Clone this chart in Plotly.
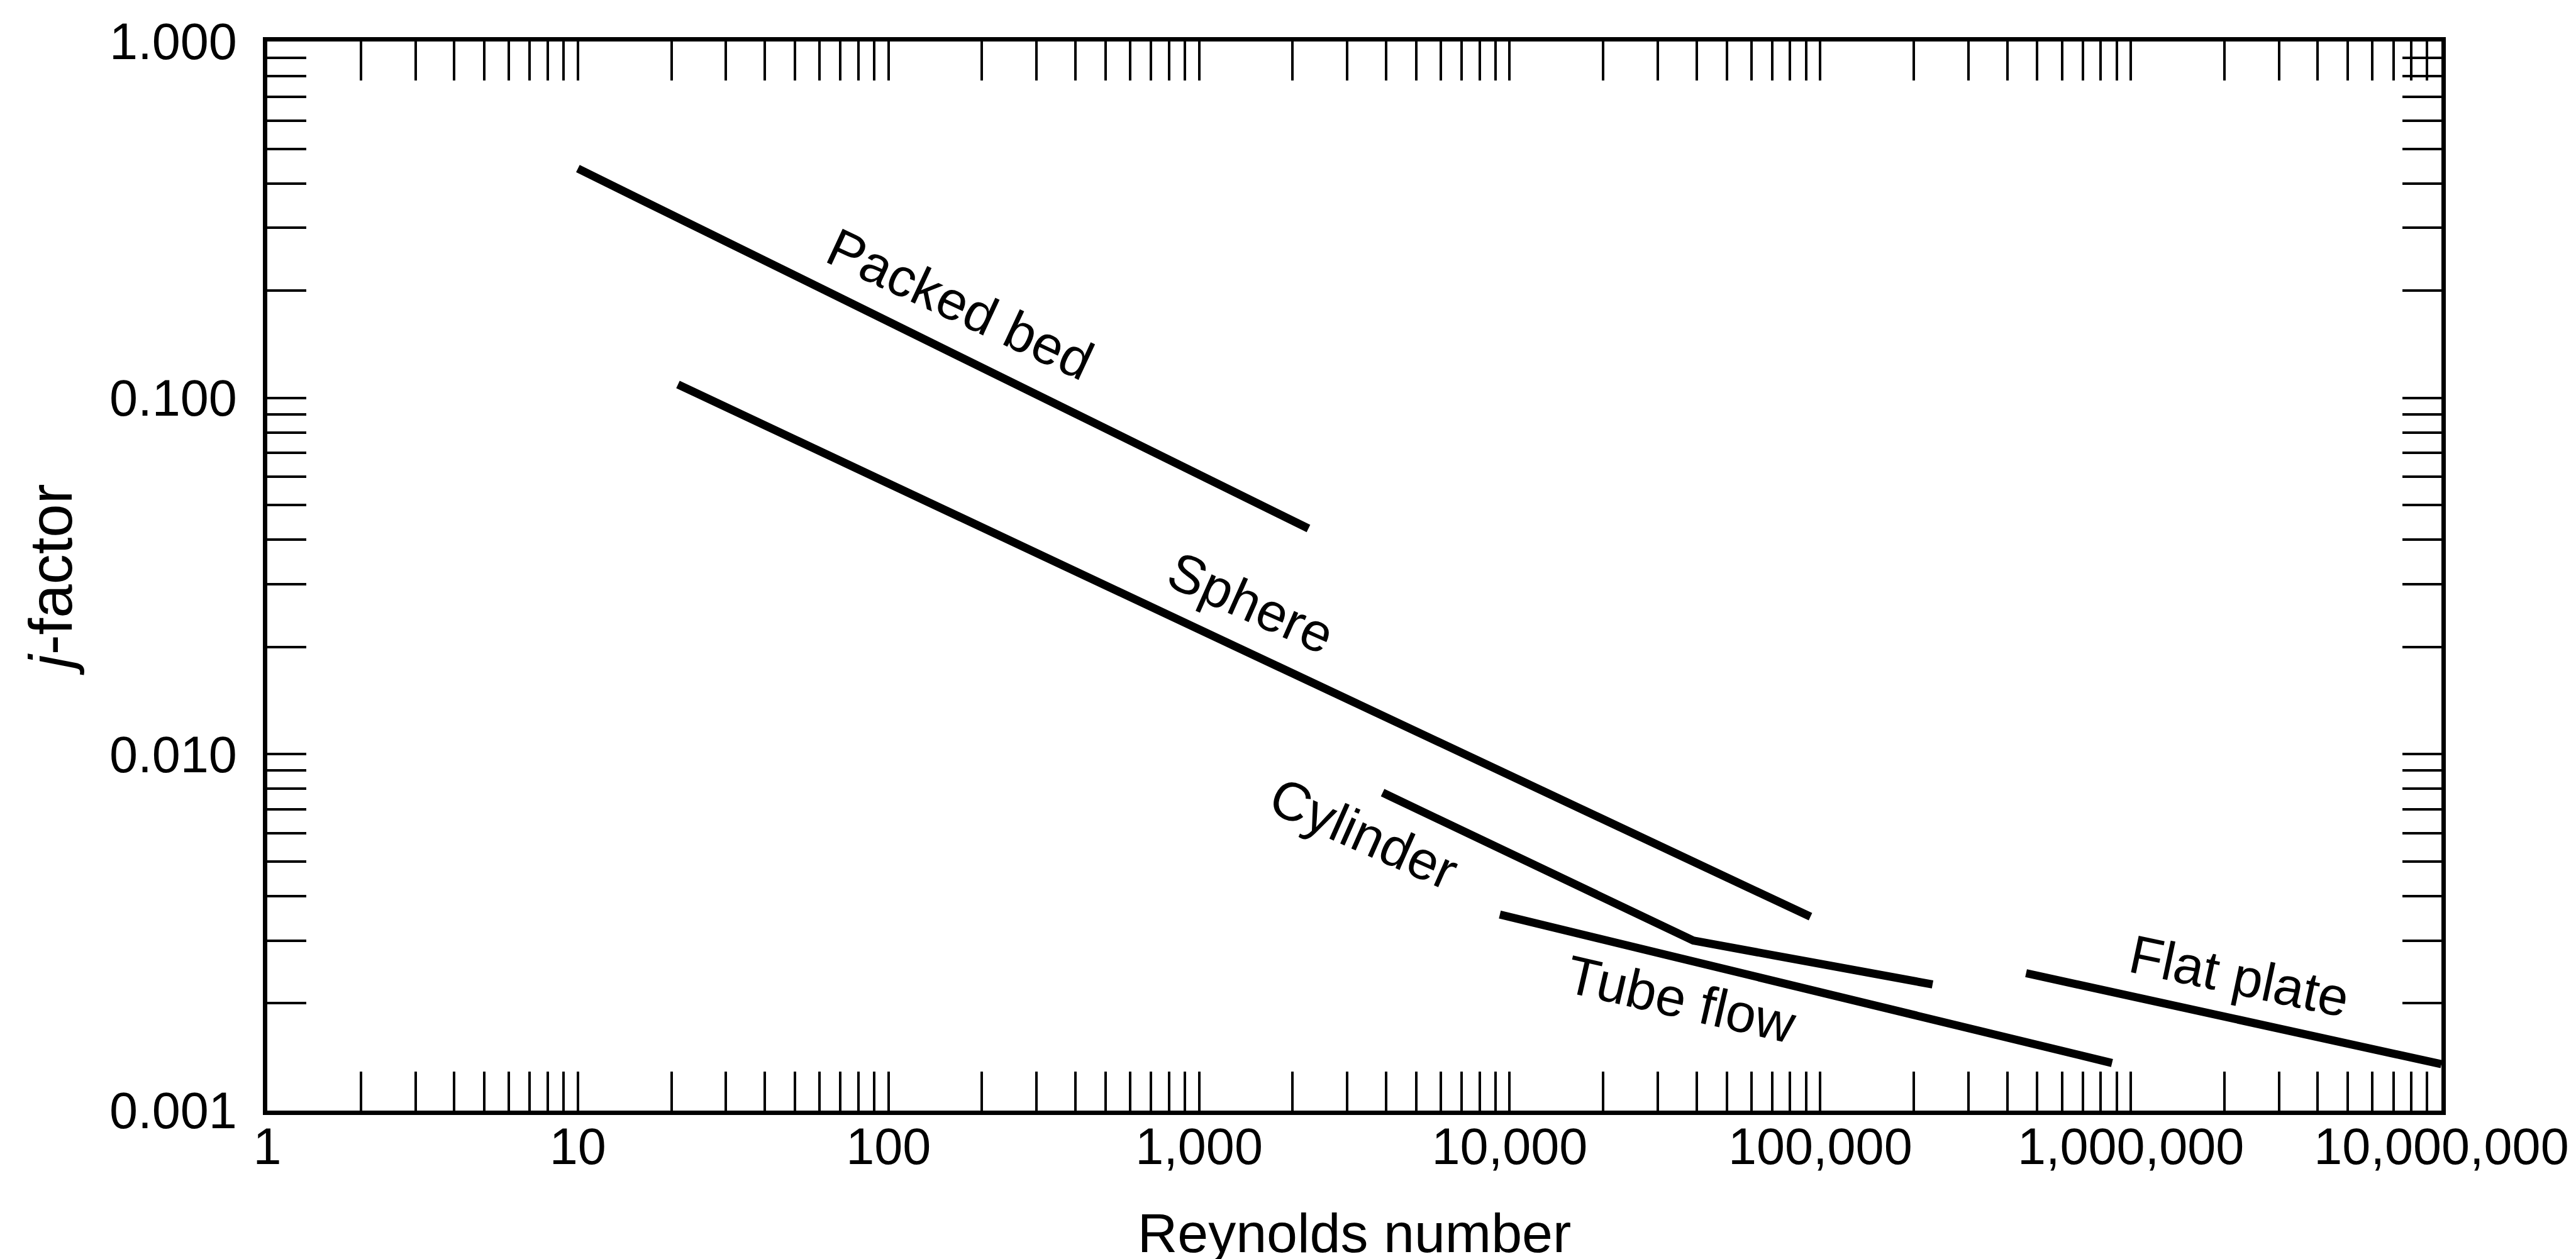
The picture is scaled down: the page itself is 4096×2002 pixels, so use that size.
import numpy as np
import plotly.graph_objects as go

# ---- data ----
packed_bed_re = [10, 2250]
packed_bed_j = [0.44, 0.043]

sphere_re = [21, 93000]
sphere_j = [0.109, 0.0035]

cylinder_re = [3900, 39000, 230000]
cylinder_j = [0.0078, 0.0030, 0.00226]

tube_re = [9300, 870000]
tube_j = [0.00355, 0.00136]

flat_plate_re = [460000, 1e7]
flat_plate_j = [0.00243, 0.00135]

series_names = ["Packed bed", "Sphere", "Cylinder", "Tube flow", "Flat plate"]
series_re = [packed_bed_re, sphere_re, cylinder_re, tube_re, flat_plate_re]
series_j = [packed_bed_j, sphere_j, cylinder_j, tube_j, flat_plate_j]

# in-plot labels: anchor (Re, j) and rotation
label_re = [170, 1470, 3385, 35800, 2.24e6]
label_j = [0.184, 0.0267, 0.0060, 0.00205, 0.00239]
label_angle = [25, 24, 24, 13, 12]

# axis ticks
x_decades = [1, 10, 100, 1000, 10000, 100000, 1000000, 10000000]
x_decade_labels = ["1", "10", "100", "1,000", "10,000", "100,000", "1,000,000", "10,000,000"]
y_decades = [0.001, 0.01, 0.1, 1.0]
y_decade_labels = ["0.001", "0.010", "0.100", "1.000"]

x_title = "Reynolds number"
y_title = "<i>j</i>-factor"


def log_ticks(decades, labels):
    vals, texts = [], []
    for i, (d, lab) in enumerate(zip(decades, labels)):
        vals.append(d)
        texts.append(lab)
        if i < len(decades) - 1:
            for n in range(2, 10):
                vals.append(n * d)
                texts.append("")
    return vals, texts


xt_vals, xt_text = log_ticks(x_decades, x_decade_labels)
yt_vals, yt_text = log_ticks(y_decades, y_decade_labels)

FONT = "Liberation Sans, Arial, Helvetica, sans-serif"

fig = go.Figure()
for name, xs, ys in zip(series_names, series_re, series_j):
    fig.add_trace(go.Scatter(
        x=xs, y=ys, mode="lines", name=name,
        line=dict(color="black", width=13),
        showlegend=False,
    ))

for name, lx, ly, ang in zip(series_names, label_re, label_j, label_angle):
    fig.add_annotation(
        x=np.log10(lx), y=np.log10(ly), xref="x", yref="y",
        text=name, showarrow=False, textangle=ang,
        font=dict(family=FONT, size=86, color="black"),
        xanchor="center", yanchor="middle",
    )

axis_common = dict(
    type="log",
    showgrid=False,
    zeroline=False,
    showline=True,
    linecolor="black",
    linewidth=7,
    mirror="ticks",
    ticks="inside",
    ticklen=62,
    tickwidth=4,
    tickcolor="black",
    tickmode="array",
    tickfont=dict(family=FONT, size=81, color="black"),
)

fig.update_xaxes(
    **axis_common,
    range=[0, 7],
    tickvals=xt_vals, ticktext=xt_text,
    ticklabelstandoff=-19,
    title=dict(text=x_title, font=dict(family=FONT, size=88, color="black"), standoff=68),
)
fig.update_yaxes(
    **axis_common,
    range=[-3, 0],
    tickvals=yt_vals, ticktext=yt_text,
    ticklabelstandoff=25,
    title=dict(text=y_title, font=dict(family=FONT, size=96, color="black"), standoff=30),
)

fig.update_layout(
    width=4096, height=2002,
    margin=dict(l=417, r=222, t=58, b=244, autoexpand=False),
    paper_bgcolor="white", plot_bgcolor="white",
    font=dict(family=FONT, color="black"),
)

fig.write_html("out.html")
